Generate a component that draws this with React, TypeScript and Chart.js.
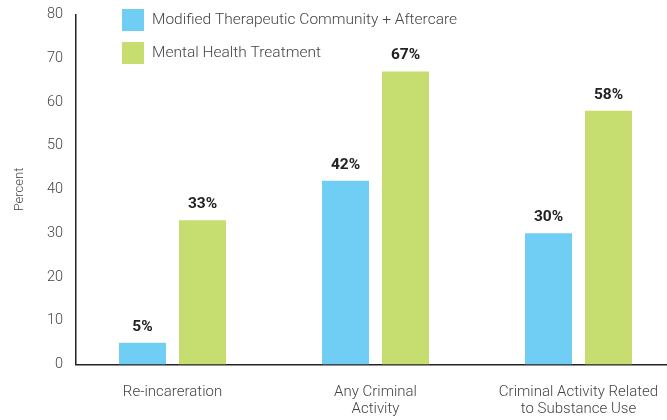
import React, { useEffect, useRef } from "react";
import { Chart, registerables } from "chart.js";

Chart.register(...registerables);

const categories: (string | string[])[] = [
  "Re-incareration",
  ["Any Criminal", "Activity"],
  ["Criminal Activity Related", "to Substance Use"],
];
const seriesNames = ["Modified Therapeutic Community + Aftercare", "Mental Health Treatment"];
const mtcValues = [5, 42, 30];
const mhtValues = [33, 67, 58];
const yTicks = [0, 10, 20, 30, 40, 50, 60, 70, 80];
const colors = ["#70cdf4", "#c6dd6f"];
const FONT = "Roboto, 'Liberation Sans', sans-serif";
const seriesValues = [mtcValues, mhtValues];

const valueLabels = {
  id: "valueLabels",
  afterDatasetsDraw(chart: any) {
    const ctx = chart.ctx;
    ctx.save();
    ctx.fillStyle = "#222";
    ctx.font = `bold 15.5px ${FONT}`;
    ctx.textAlign = "center";
    ctx.textBaseline = "middle";
    chart.data.datasets.forEach((_ds: any, i: number) => {
      const meta = chart.getDatasetMeta(i);
      meta.data.forEach((bar: any, j: number) => {
        ctx.fillText(`${seriesValues[i][j]}%`, bar.x, bar.y - 16);
      });
    });
    ctx.restore();
  },
};

const sideLegend = {
  id: "sideLegend",
  afterDraw(chart: any) {
    const ctx = chart.ctx;
    ctx.save();
    ctx.font = `300 15.5px ${FONT}`;
    ctx.textBaseline = "middle";
    ctx.textAlign = "left";
    chart.data.datasets.forEach((ds: any, i: number) => {
      const y = 9 + i * 33;
      ctx.fillStyle = ds.backgroundColor;
      ctx.fillRect(122, y, 22, 22);
      ctx.fillStyle = "#444";
      ctx.fillText(ds.label, 152, y + 11);
    });
    ctx.restore();
  },
};

export default function App() {
  const ref = useRef<HTMLCanvasElement>(null);
  useEffect(() => {
    document.body.style.margin = "0";
    if (!ref.current) return;
    const chart = new Chart(ref.current, {
      type: "bar",
      data: {
        datasets: [
          {
            label: seriesNames[0],
            data: mtcValues.map((v, i) => ({ x: i, y: v })),
            backgroundColor: colors[0],
          },
          {
            label: seriesNames[1],
            data: mhtValues.map((v, i) => ({ x: i, y: v })),
            backgroundColor: colors[1],
          },
        ],
      },
      options: {
        animation: false,
        responsive: false,
        devicePixelRatio: 1,
        layout: { padding: { top: 14.5, right: 15, left: 0, bottom: 0 } },
        categoryPercentage: 0.591,
        barPercentage: 0.783,
        plugins: { legend: { display: false }, tooltip: { enabled: false } },
        scales: {
          x: {
            type: "linear",
            min: -0.4754,
            max: 2.5246,
            offset: false,
            afterBuildTicks(scale: any) {
              scale.ticks = categories.map((_c, i) => ({ value: i }));
            },
            grid: { display: false, drawTicks: false },
            border: { display: true, color: "#222", width: 1.5 },
            ticks: {
              color: "#444",
              font: { family: FONT, size: 15, weight: 300, lineHeight: 1.133 },
              padding: 19,
              maxRotation: 0,
              autoSkip: false,
              callback: (v: any) => categories[Math.round(Number(v))] as any,
            },
            afterFit(scale: any) {
              scale.height = 55.5;
              scale.paddingLeft = 0;
              scale.paddingRight = 0;
            },
          },
          y: {
            min: 0,
            max: 80,
            afterBuildTicks(scale: any) {
              scale.ticks = yTicks.map((v) => ({ value: v }));
            },
            grid: { display: false, drawTicks: false },
            border: { display: true, color: "#222", width: 1.5 },
            ticks: { color: "#444", font: { family: FONT, size: 14.5, weight: 300 }, padding: 13 },
            title: {
              display: true,
              text: "Percent",
              color: "#444",
              font: { family: FONT, size: 13, weight: 300 },
              padding: { top: 12, bottom: 0 },
            },
            afterFit(scale: any) {
              scale.width = 76;
              scale.paddingTop = 0;
              scale.paddingBottom = 0;
            },
          },
        },
      },
      plugins: [valueLabels, sideLegend],
    });
    return () => chart.destroy();
  }, []);
  return (
    <div style={{ width: 667, height: 420, overflow: "hidden", position: "relative" }}>
      <canvas ref={ref} width={700} height={420} style={{ display: "block" }} />
    </div>
  );
}
